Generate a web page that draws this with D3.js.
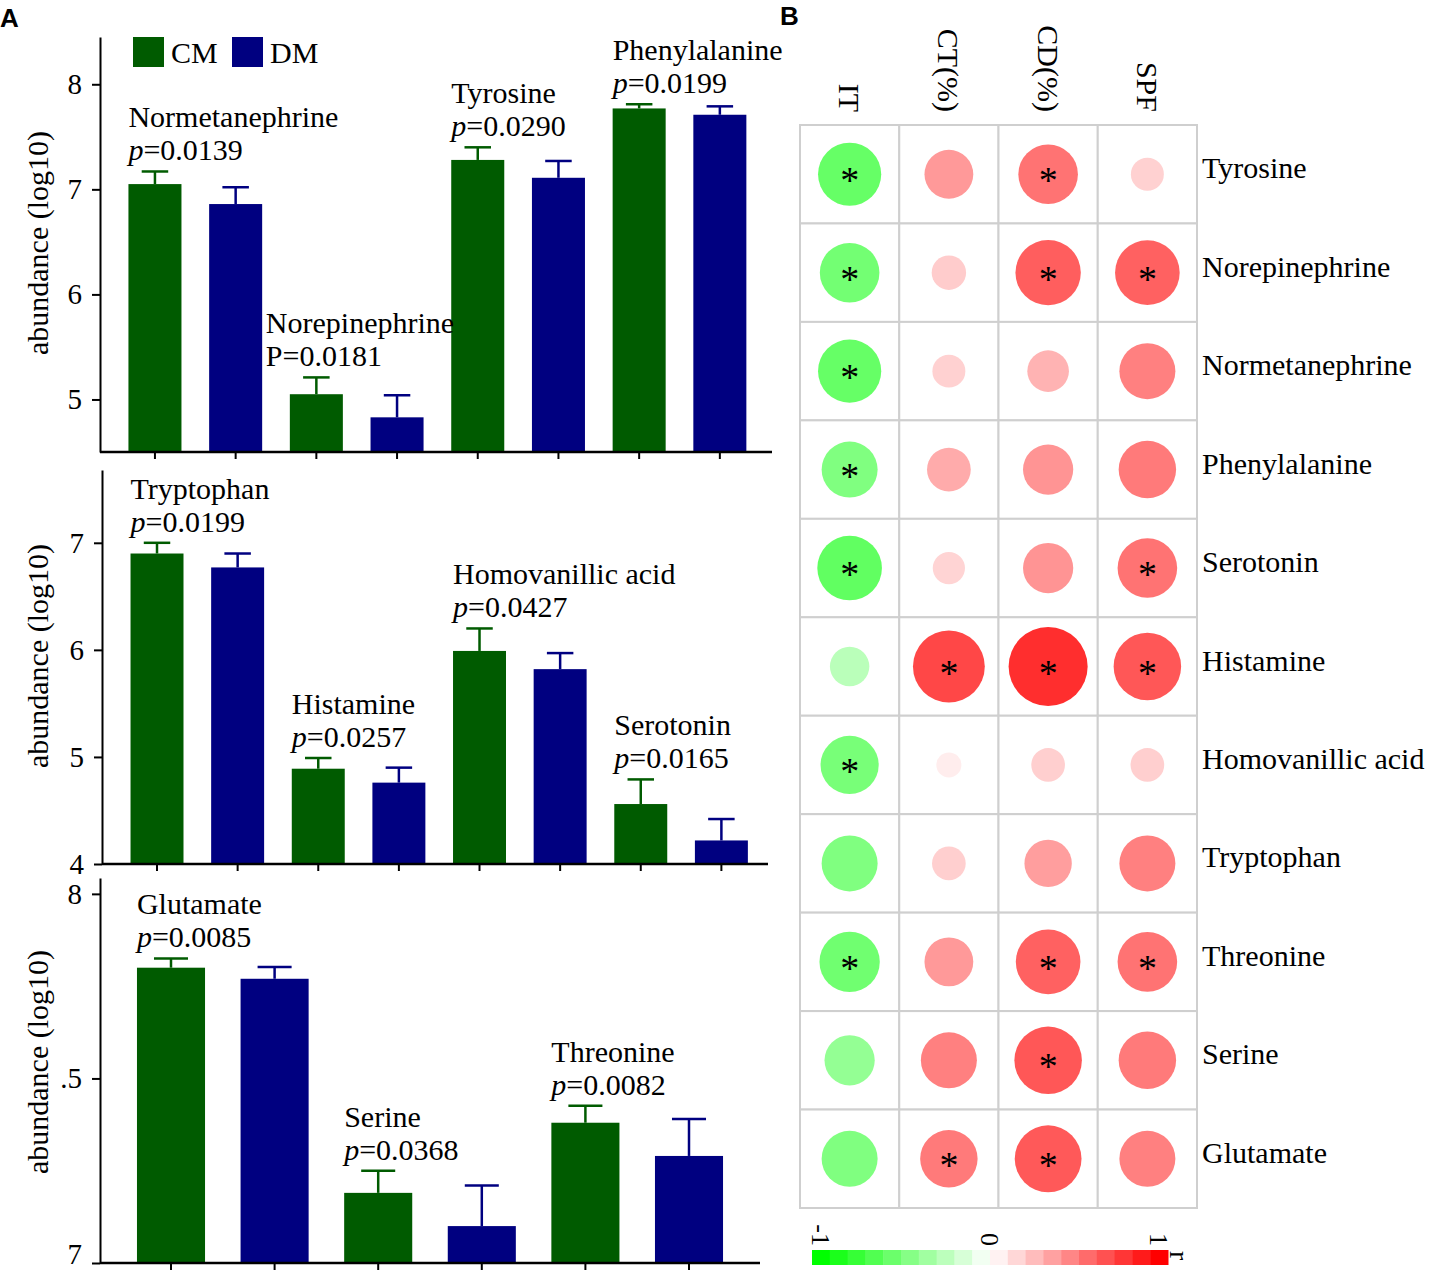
<!DOCTYPE html>
<html>
<head>
<meta charset="utf-8">
<script src="https://cdn.jsdelivr.net/npm/d3@7"></script>
<style>
  body { margin: 0; background: #fff; }
  text { font-family: "Liberation Serif", "Times New Roman", serif; fill: #000; }
</style>
</head>
<body>
<script>
const W = 1430, H = 1270;

// ---------- panel A data (log10 abundance, mean and SEM) ----------
const groups = ["CM", "DM"];

const topMetabolites = ["Normetanephrine", "Norepinephrine", "Tyrosine", "Phenylalanine"];
const topMeans = [[7.05, 6.86], [5.05, 4.83], [7.28, 7.11], [7.77, 7.71]];
const topErrors = [[0.12, 0.16], [0.16, 0.21], [0.12, 0.16], [0.04, 0.08]];
const topPLabels = ["p=0.0139", "P=0.0181", "p=0.0290", "p=0.0199"];
const topTicks = [5, 6, 7, 8];
const topTickLabels = ["5", "6", "7", "8"];

const midMetabolites = ["Tryptophan", "Histamine", "Homovanillic acid", "Serotonin"];
const midMeans = [[6.90, 6.77], [4.89, 4.76], [5.99, 5.82], [4.56, 4.22]];
const midErrors = [[0.10, 0.13], [0.10, 0.14], [0.21, 0.15], [0.23, 0.20]];
const midPLabels = ["p=0.0199", "p=0.0257", "p=0.0427", "p=0.0165"];
const midTicks = [4, 5, 6, 7];
const midTickLabels = ["4", "5", "6", "7"];

const botMetabolites = ["Glutamate", "Serine", "Threonine"];
const botMeans = [[7.80, 7.77], [7.19, 7.10], [7.38, 7.29]];
const botErrors = [[0.025, 0.032], [0.06, 0.11], [0.046, 0.10]];
const botPLabels = ["p=0.0085", "p=0.0368", "p=0.0082"];
const botTicks = [7, 7.5, 8];
const botTickLabels = ["7", ".5", "8"];

// ---------- panel B data (correlation r and significance) ----------
const heatRows = ["Tyrosine", "Norepinephrine", "Normetanephrine", "Phenylalanine", "Serotonin",
  "Histamine", "Homovanillic acid", "Tryptophan", "Threonine", "Serine", "Glutamate"];
const heatCols = ["IT", "CT(%)", "CD(%)", "SPF"];
const corrValues = [
  [-0.60, 0.40, 0.55, 0.18],
  [-0.55, 0.20, 0.63, 0.62],
  [-0.60, 0.18, 0.30, 0.50],
  [-0.50, 0.33, 0.42, 0.52],
  [-0.62, 0.17, 0.42, 0.55],
  [-0.27, 0.72, 0.82, 0.66],
  [-0.53, 0.07, 0.19, 0.19],
  [-0.50, 0.19, 0.38, 0.50],
  [-0.56, 0.40, 0.62, 0.55],
  [-0.42, 0.50, 0.66, 0.52],
  [-0.50, 0.52, 0.65, 0.50]
];
const corrSignif = [
  [1, 0, 1, 0],
  [1, 0, 1, 1],
  [1, 0, 0, 0],
  [1, 0, 0, 0],
  [1, 0, 0, 1],
  [0, 1, 1, 1],
  [1, 0, 0, 0],
  [0, 0, 0, 0],
  [1, 0, 1, 1],
  [0, 0, 1, 0],
  [0, 1, 1, 0]
];
const legendTicks = [-1, 0, 1];
const legendSteps = 20;

const barColor = { CM: "#005b00", DM: "#000080" };

const svg = d3.select("body").append("svg")
  .attr("width", W).attr("height", H);

// panel letters
svg.append("text").attr("x", 0).attr("y", 27)
  .style("font-family", "'Liberation Sans', Arial, sans-serif")
  .attr("font-weight", "bold").attr("font-size", 26).text("A");
svg.append("text").attr("x", 780).attr("y", 25)
  .style("font-family", "'Liberation Sans', Arial, sans-serif")
  .attr("font-weight", "bold").attr("font-size", 26).text("B");

// one bar panel
function drawBarPanel(p) {
  const y = d3.scaleLinear().domain(p.yDomain).range([p.bottom, p.top]);
  const keys = p.metabolites.flatMap(m => groups.map(g => m + "|" + g));
  const x = d3.scaleBand().domain(keys).range([p.x0, p.x1])
    .paddingInner(0.343).paddingOuter(0.1715);

  const rows = p.metabolites.flatMap((m, i) => groups.map((g, j) => ({
    m: m, g: g, key: m + "|" + g, mean: p.means[i][j], err: p.errors[i][j]
  })));

  const g = svg.append("g");

  g.selectAll("rect.bar").data(rows).join("rect")
    .attr("class", "bar")
    .attr("x", d => x(d.key))
    .attr("width", x.bandwidth())
    .attr("y", d => y(d.mean))
    .attr("height", d => y(p.yDomain[0]) - y(d.mean))
    .attr("fill", d => barColor[d.g]);

  // error bars (upper only)
  const cap = x.bandwidth() * 0.5;
  const eb = g.selectAll("g.err").data(rows).join("g").attr("class", "err")
    .attr("stroke", d => barColor[d.g]).attr("stroke-width", 2.5);
  eb.append("line")
    .attr("x1", d => x(d.key) + x.bandwidth() / 2)
    .attr("x2", d => x(d.key) + x.bandwidth() / 2)
    .attr("y1", d => y(d.mean))
    .attr("y2", d => y(d.mean + d.err));
  eb.append("line")
    .attr("x1", d => x(d.key) + x.bandwidth() / 2 - cap / 2)
    .attr("x2", d => x(d.key) + x.bandwidth() / 2 + cap / 2)
    .attr("y1", d => y(d.mean + d.err))
    .attr("y2", d => y(d.mean + d.err));

  // y axis
  const ya = g.append("g")
    .attr("transform", `translate(${p.axisX},0)`)
    .call(d3.axisLeft(y).tickValues(p.ticks)
      .tickFormat((d, i) => p.tickLabels[i])
      .tickSize(8).tickSizeOuter(0).tickPadding(10));
  ya.attr("font-family", null).attr("font-size", 29);
  ya.selectAll("path, line").attr("stroke-width", 2);
  // keep the lowest label inside the page
  if (p.bottom > H - 12) {
    ya.selectAll(".tick text").filter(d => d === p.yDomain[0]).attr("dy", "0em");
  }

  // x axis: ticks only at bar centres, long base line
  const xa = g.append("g")
    .attr("transform", `translate(0,${p.bottom})`)
    .call(d3.axisBottom(x).tickFormat("").tickSize(7).tickSizeOuter(0));
  xa.select(".domain").remove();
  xa.selectAll("line").attr("stroke-width", 2);
  g.append("line")
    .attr("x1", p.axisX).attr("x2", p.axisRight)
    .attr("y1", p.bottom).attr("y2", p.bottom)
    .attr("stroke", "#000").attr("stroke-width", 2.5);

  // y label
  g.append("text")
    .attr("transform", `translate(48,${p.labelY}) rotate(-90)`)
    .attr("text-anchor", "middle")
    .attr("font-size", 30)
    .text("abundance (log10)");

  // metabolite name + p value above the CM bar
  const nudge = { "Norepinephrine": -24 };
  p.metabolites.forEach((m, i) => {
    const cmKey = m + "|CM";
    const lx = x(cmKey) + (nudge[m] || 0);
    const py = y(p.means[i][0] + p.errors[i][0]) - 11;
    g.append("text").attr("x", lx).attr("y", py - 33)
      .attr("font-size", 30).text(m);
    const pl = p.pLabels[i];
    const t = g.append("text").attr("x", lx).attr("y", py).attr("font-size", 30);
    if (pl[0] === "p") {
      t.append("tspan").attr("font-style", "italic").text("p");
      t.append("tspan").text(pl.slice(1));
    } else {
      t.text(pl);
    }
  });
}

drawBarPanel({
  metabolites: topMetabolites, means: topMeans, errors: topErrors, pLabels: topPLabels,
  ticks: topTicks, tickLabels: topTickLabels,
  yDomain: [4.5, 8.45], top: 37, bottom: 452,
  x0: 114.6, x1: 760.2, axisX: 100, axisRight: 772, labelY: 243
});
drawBarPanel({
  metabolites: midMetabolites, means: midMeans, errors: midErrors, pLabels: midPLabels,
  ticks: midTicks, tickLabels: midTickLabels,
  yDomain: [4, 7.68], top: 470, bottom: 864,
  x0: 116.7, x1: 761.7, axisX: 102, axisRight: 768, labelY: 656
});
drawBarPanel({
  metabolites: botMetabolites, means: botMeans, errors: botErrors, pLabels: botPLabels,
  ticks: botTicks, tickLabels: botTickLabels,
  yDomain: [7, 8.043], top: 878, bottom: 1263,
  x0: 119.2, x1: 740.8, axisX: 100, axisRight: 760, labelY: 1062
});

// legend for panel A
const leg = svg.append("g");
groups.forEach((gname, i) => {
  const lx = 133 + i * 99;
  leg.append("rect").attr("x", lx).attr("y", 37).attr("width", 31).attr("height", 30)
    .attr("fill", barColor[gname]);
  leg.append("text").attr("x", lx + 38).attr("y", 63).attr("font-size", 30).text(gname);
});

// ---------- panel B ----------
const hx = d3.scaleBand().domain(heatCols).range([800, 1197]);
const hy = d3.scaleBand().domain(heatRows).range([125, 1208]);
const rColor = d3.scaleLinear().domain([-1, 0, 1]).range(["#00ff00", "#ffffff", "#ff0000"]);
const rRadius = d3.scaleLinear().domain([0, 1]).range([10, 46]);

const cells = heatRows.flatMap((row, i) => heatCols.map((col, j) => ({
  row: row, col: col, r: corrValues[i][j], sig: corrSignif[i][j]
})));

const hb = svg.append("g");
hb.selectAll("rect.cell").data(cells).join("rect")
  .attr("class", "cell")
  .attr("x", d => hx(d.col)).attr("y", d => hy(d.row))
  .attr("width", hx.bandwidth()).attr("height", hy.bandwidth())
  .attr("fill", "#fff").attr("stroke", "#cfcfcf").attr("stroke-width", 2);

hb.selectAll("circle").data(cells).join("circle")
  .attr("cx", d => hx(d.col) + hx.bandwidth() / 2)
  .attr("cy", d => hy(d.row) + hy.bandwidth() / 2)
  .attr("r", d => rRadius(Math.abs(d.r)))
  .attr("fill", d => rColor(d.r));

hb.selectAll("text.star").data(cells.filter(d => d.sig)).join("text")
  .attr("class", "star")
  .attr("x", d => hx(d.col) + hx.bandwidth() / 2)
  .attr("y", d => hy(d.row) + hy.bandwidth() / 2 + 19)
  .attr("text-anchor", "middle").attr("font-size", 38)
  .text("*");

// row labels
hb.selectAll("text.rowlab").data(heatRows).join("text")
  .attr("class", "rowlab")
  .attr("x", 1202)
  .attr("y", d => hy(d) + hy.bandwidth() / 2 + 4)
  .attr("font-size", 30)
  .text(d => d);

// column labels, rotated
hb.selectAll("text.collab").data(heatCols).join("text")
  .attr("class", "collab")
  .attr("transform", d => `translate(${hx(d) + hx.bandwidth() / 2},112) rotate(90)`)
  .attr("text-anchor", "end").attr("dy", "0.35em")
  .attr("font-size", 30)
  .text(d => d);

// colour bar
const cbX0 = 812, cbX1 = 1168, cbY = 1250, cbH = 15;
const stepW = (cbX1 - cbX0) / legendSteps;
const stepVals = d3.range(legendSteps).map(i => -1 + i * 2 / (legendSteps - 1));
const cb = svg.append("g");
cb.selectAll("rect").data(stepVals).join("rect")
  .attr("x", (d, i) => cbX0 + i * stepW)
  .attr("y", cbY).attr("width", stepW + 0.5).attr("height", cbH)
  .attr("fill", d => rColor(d));
const cbScale = d3.scaleLinear().domain([-1, 1]).range([cbX0 + stepW / 2, cbX1 - stepW / 2]);
cb.selectAll("text.cbt").data(legendTicks).join("text")
  .attr("class", "cbt")
  .attr("transform", d => `translate(${cbScale(d)},1246) rotate(90)`)
  .attr("text-anchor", "end").attr("dy", "0.35em")
  .attr("font-size", 26)
  .text(d => String(d));
cb.append("text")
  .attr("transform", `translate(${cbX1 + 12},${cbY + 1}) rotate(90)`)
  .attr("dy", "0.35em").attr("font-size", 28)
  .text("r");
</script>
</body>
</html>
